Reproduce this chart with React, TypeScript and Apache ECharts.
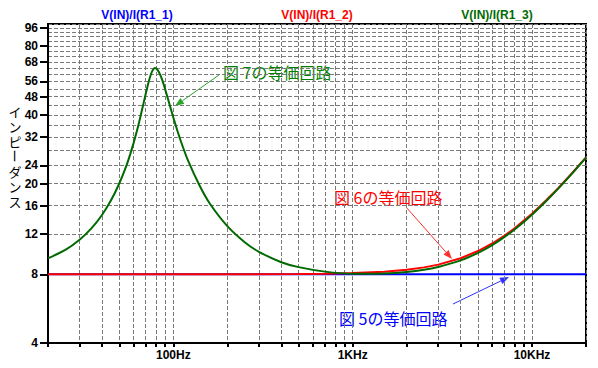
import React, { useEffect, useRef } from "react";
import * as echarts from "echarts";

// ---- data ----
const freqBlue = [20, 20000];
const zBlue = [8, 8];

const freqRed = [20, 200, 500, 700, 1000, 1500, 2000, 2500, 3000, 4000, 5000, 6000, 7000, 8000, 10000, 12000, 14000, 17000, 20000];
const zRed = [8, 8, 8.02, 8.05, 8.1, 8.21, 8.37, 8.58, 8.82, 9.41, 10.12, 10.92, 11.79, 12.73, 14.74, 16.88, 19.09, 22.52, 26.02];

const freqGreen = [20, 25, 30, 35, 40, 45, 50, 55, 57.5, 60, 62.5, 65, 67.5, 70, 72.5, 75, 77, 79, 82, 85, 87.5, 90, 95, 100, 105, 110, 120, 140, 160, 200, 250, 300, 400, 500, 700, 1000, 1500, 2000, 2500, 3000, 4000, 5000, 6000, 7000, 8000, 10000, 12000, 14000, 17000, 20000];
const zGreen = [9.39, 10.23, 11.33, 12.74, 14.56, 16.92, 20.05, 24.2, 26.9, 30.06, 33.8, 38.2, 43.4, 49.1, 55.0, 60.2, 63.0, 64.1, 62.65, 59.2, 55.6, 51.8, 44.7, 38.9, 34.3, 30.7, 25.5, 19.6, 16.3, 13.0, 11.06, 10.04, 9.04, 8.6, 8.22, 8.05, 8.07, 8.19, 8.37, 8.62, 9.21, 9.93, 10.74, 11.64, 12.57, 14.6, 16.76, 18.99, 22.43, 25.95];

const xTickValues = [20, 30, 40, 50, 60, 70, 80, 90, 100, 200, 300, 400, 500, 600, 700, 800, 900, 1000, 2000, 3000, 4000, 5000, 6000, 7000, 8000, 9000, 10000, 20000];
const xLabelValues = [100, 1000, 10000];
const xLabelTexts = ["100Hz", "1KHz", "10KHz"];

const yGridValues = [4, 8, 12, 16, 20, 24, 28, 32, 36, 40, 44, 48, 52, 56, 60, 64, 68, 72, 76, 80, 84, 88, 92, 96, 100];
const yLabelValues = [4, 8, 12, 16, 20, 24, 32, 40, 48, 56, 68, 80, 96];

const traceNames = ["V(IN)/I(R1_1)", "V(IN)/I(R1_2)", "V(IN)/I(R1_3)"];
const traceColors = ["#0000ff", "#ff0000", "#006a00"];

// y-axis title "インピーダンス", written vertically in three pieces (the long vowel mark is rotated)
const yTitleParts = ["イ\nン\nピ", "ー", "ダ\nン\nス"];

const notes = [
  { text: "図 7の等価回路", color: "#008000", arrowColor: "#2aa52a", tx: 223, ty: 72, x1: 219, y1: 75, x2: 175, y2: 106 },
  { text: "図 6の等価回路", color: "#ff0000", arrowColor: "#ff3030", tx: 334, ty: 197, x1: 406, y1: 207, x2: 452, y2: 259 },
  { text: "図 5の等価回路", color: "#0000ff", arrowColor: "#3030ff", tx: 339, ty: 318, x1: 453, y1: 304, x2: 509, y2: 277 },
];

function pairs(xs: number[], ys: number[]) {
  return xs.map((x, i) => [x, ys[i]]);
}

function arrow(x1: number, y1: number, x2: number, y2: number, color: string) {
  const dx = x2 - x1;
  const dy = y2 - y1;
  const len = Math.sqrt(dx * dx + dy * dy);
  const ux = dx / len;
  const uy = dy / len;
  const hl = 9;
  const hw = 3.5;
  const bx = x2 - ux * hl;
  const by = y2 - uy * hl;
  return [
    { type: "line", silent: true, shape: { x1, y1, x2: bx, y2: by }, style: { stroke: color, lineWidth: 1 } },
    {
      type: "polygon",
      silent: true,
      shape: { points: [[x2, y2], [bx - uy * hw, by + ux * hw], [bx + uy * hw, by - ux * hw]] },
      style: { fill: color },
    },
  ];
}

export default function App() {
  const ref = useRef<HTMLDivElement>(null);
  useEffect(() => {
    if (!ref.current) return;
    const chart = echarts.init(ref.current, null, { renderer: "svg" });
    const labelFont = { fontFamily: "Liberation Sans, Arial, sans-serif", fontWeight: "bold", fontSize: 12, color: "#000" };
    const graphics: any[] = [];
    traceNames.forEach((n, i) => {
      graphics.push({
        type: "text",
        x: 137 + i * 180,
        y: 15,
        style: { text: n, fill: traceColors[i], font: "bold 12px 'Liberation Sans', Arial, sans-serif", textAlign: "center", textVerticalAlign: "middle" },
      });
    });
    const titleY = [126, 156, 186];
    yTitleParts.forEach((c, i) => {
      graphics.push({
        type: "text",
        x: 15,
        y: titleY[i],
        rotation: c === "ー" ? -Math.PI / 2 : 0,
        style: { text: c, fill: "#000", fontFamily: "'Noto Sans CJK JP', sans-serif", fontSize: 13, lineHeight: 15, textAlign: "center", textVerticalAlign: "middle" },
      });
    });
    notes.forEach((n) => {
      graphics.push({
        type: "text",
        x: n.tx,
        y: n.ty,
        style: { text: n.text, fill: n.color, font: "16px 'Noto Sans CJK JP', sans-serif", textAlign: "left", textVerticalAlign: "middle" },
      });
      arrow(n.x1, n.y1, n.x2, n.y2, n.arrowColor).forEach((g) => graphics.push(g));
    });

    const dashed = { type: [4, 2], color: "#7a7a7a", width: 1 };
    chart.setOption({
      animation: false,
      backgroundColor: "#fff",
      grid: { left: 48, right: 12, top: 24, bottom: 25, show: true, borderColor: "#000", borderWidth: 2, backgroundColor: "transparent" },
      xAxis: {
        type: "log",
        logBase: 10,
        min: 20,
        max: 20000,
        axisLine: { show: true, lineStyle: { color: "#000", width: 2 } },
        axisTick: { show: true, length: 4, customValues: xTickValues, lineStyle: { color: "#000", width: 2 } },
        minorTick: { show: false },
        axisLabel: {
          ...labelFont,
          margin: 6,
          customValues: xLabelValues,
          formatter: (v: number) => {
            const idx = xLabelValues.findIndex((x) => Math.abs(x - v) / x < 1e-6);
            return idx >= 0 ? xLabelTexts[idx] : "";
          },
        },
        splitLine: { show: true, lineStyle: dashed },
      },
      yAxis: [
        {
          type: "log",
          logBase: 10,
          min: 4,
          max: 100,
          axisLine: { show: true, lineStyle: { color: "#000", width: 2 } },
          axisTick: { show: false, customValues: yGridValues },
          minorTick: { show: false },
          axisLabel: { ...labelFont, margin: 10, customValues: yLabelValues, formatter: (v: number) => String(Math.round(v)) },
          splitLine: { show: true, lineStyle: dashed },
        },
        {
          type: "log",
          logBase: 10,
          min: 4,
          max: 100,
          position: "left",
          axisLine: { show: false },
          axisTick: { show: true, length: 8, customValues: yLabelValues, lineStyle: { color: "#000", width: 2 } },
          minorTick: { show: false },
          axisLabel: { show: false },
          splitLine: { show: false },
        },
      ],
      series: [
        { type: "line", name: traceNames[0], data: pairs(freqBlue, zBlue), showSymbol: false, symbol: "none", lineStyle: { color: traceColors[0], width: 2 }, z: 3 },
        { type: "line", name: traceNames[1], data: pairs(freqRed, zRed), showSymbol: false, symbol: "none", lineStyle: { color: traceColors[1], width: 2 }, z: 4 },
        { type: "line", name: traceNames[2], data: pairs(freqGreen, zGreen), showSymbol: false, symbol: "none", smooth: 0.2, lineStyle: { color: traceColors[2], width: 2 }, z: 5 },
      ],
      graphic: graphics,
    });
    return () => chart.dispose();
  }, []);
  return <div ref={ref} style={{ position: "absolute", left: 0, top: 0, width: 598, height: 368 }} />;
}
